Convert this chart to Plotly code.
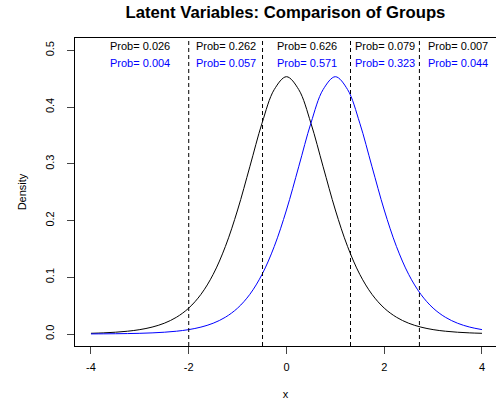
import plotly.graph_objects as go

x_grid = [-4, -3.75, -3.5, -3.25, -3, -2.75, -2.5, -2.25, -2, -1.75, -1.5, -1.25, -1, -0.75, -0.5, -0.25,
          0, 0.25, 0.5, 0.75, 1, 1.25, 1.5, 1.75, 2, 2.25, 2.5, 2.75, 3, 3.25, 3.5, 3.75, 4]

group1_density = [0.00128, 0.00201, 0.00316, 0.00497, 0.00779, 0.0122, 0.01905, 0.0296, 0.0457, 0.0699,
                  0.1051, 0.1543, 0.2186, 0.2948, 0.3716, 0.4309, 0.4535, 0.4309, 0.3716, 0.2948, 0.2186,
                  0.1543, 0.1051, 0.0699, 0.0457, 0.0296, 0.01905, 0.0122, 0.00779, 0.00497, 0.00316,
                  0.00201, 0.00128]

group2_density = [0.00021, 0.00033, 0.00052, 0.00081, 0.00128, 0.00201, 0.00316, 0.00497, 0.00779, 0.0122,
                  0.01905, 0.0296, 0.0457, 0.0699, 0.1051, 0.1543, 0.2186, 0.2948, 0.3716, 0.4309, 0.4535,
                  0.4309, 0.3716, 0.2948, 0.2186, 0.1543, 0.1051, 0.0699, 0.0457, 0.0296, 0.01905, 0.0122,
                  0.00779]

cutpoints = [-2.0, -0.49, 1.31, 2.72]
label_x = [-3.0, -1.245, 0.41, 2.015, 3.5]
prob_group1 = ["0.026", "0.262", "0.626", "0.079", "0.007"]
prob_group2 = ["0.004", "0.057", "0.571", "0.323", "0.044"]

x_ticks = [-4, -2, 0, 2, 4]
y_ticks = [0.0, 0.1, 0.2, 0.3, 0.4, 0.5]

FONT = "Liberation Sans, Arial, Helvetica, sans-serif"

fig = go.Figure()
fig.add_trace(go.Scatter(x=x_grid, y=group1_density, mode="lines",
                         line=dict(color="black", width=1, shape="spline"), showlegend=False))
fig.add_trace(go.Scatter(x=x_grid, y=group2_density, mode="lines",
                         line=dict(color="blue", width=1, shape="spline"), showlegend=False))

for c in cutpoints:
    fig.add_shape(type="line", x0=c, x1=c, y0=0, y1=1, xref="x", yref="paper",
                  line=dict(color="black", width=1, dash="4px,3px"))

for lx, p1, p2 in zip(label_x, prob_group1, prob_group2):
    fig.add_annotation(x=lx, y=0.507, text="Prob= " + p1, showarrow=False,
                       font=dict(family=FONT, size=11, color="black"), xanchor="center", yanchor="middle")
    fig.add_annotation(x=lx, y=0.477, text="Prob= " + p2, showarrow=False,
                       font=dict(family=FONT, size=11, color="blue"), xanchor="center", yanchor="middle")

fig.update_layout(
    width=496, height=401,
    margin=dict(l=75, r=0, t=38, b=55),
    plot_bgcolor="white", paper_bgcolor="white",
    font=dict(family=FONT, size=11, color="black"),
    title=dict(text="<b>Latent Variables: Comparison of Groups</b>", x=0.5755, xanchor="center",
               y=1 - 12.5 / 401, yanchor="middle", font=dict(family=FONT, size=16.7, color="black")),
    xaxis=dict(range=[-4.327, 4.287], tickvals=x_ticks, ticktext=[str(v) for v in x_ticks],
               showgrid=False, zeroline=False, showline=True, linecolor="black", linewidth=1,
               mirror=True, ticks="outside", ticklen=7, tickcolor="#444", tickwidth=1,
               ticklabelstandoff=4,
               title=dict(text="x", standoff=18, font=dict(family=FONT, size=11))),
    yaxis=dict(range=[-0.0211, 0.5217], tickvals=y_ticks, ticktext=[f"{v:.1f}" for v in y_ticks],
               tickangle=-90, showgrid=False, zeroline=False, showline=True, linecolor="black",
               linewidth=1, ticks="outside", ticklen=7, tickcolor="#444", tickwidth=1,
               ticklabelstandoff=9,
               title=dict(text="Density", standoff=14, font=dict(family=FONT, size=11))),
)

fig.write_html("out.html")
